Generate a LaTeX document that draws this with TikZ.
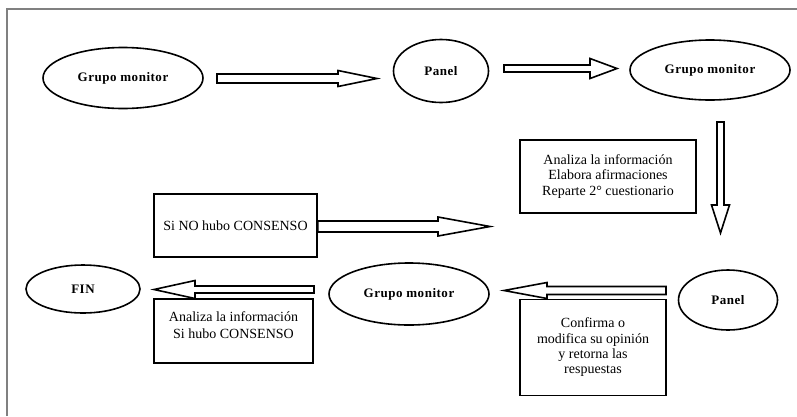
\documentclass[tikz,border=0pt]{standalone}
\usepackage{fontspec}
\setmainfont{Liberation Serif}
\newfontfamily\ellfont[LetterSpace=4]{Liberation Serif}
\usetikzlibrary{shapes.geometric,calc}
\tikzset{
  ell/.style={ellipse, draw, line width=1.6pt, inner sep=0pt,
    font=\ellfont\bfseries\fontsize{13}{15}\selectfont},
  boxn/.style={rectangle, draw, line width=1.6pt, inner sep=0pt, align=center,
    font=\fontsize{14}{15.3}\selectfont},
  boxtext/.style={inner sep=0pt, align=center, font=\fontsize{14}{17}\selectfont},
  arrowline/.style={draw, line width=1.6pt, fill=white, line join=miter},
  framel/.style={draw=black!50, line width=1.3pt},
}
% block arrow: #1 start, #2 tip, #3 shaft half width, #4 head half width, #5 head length
\newcommand{\barrow}[5]{%
  \coordinate (hb) at ($(#2)!#5!(#1)$);
  \draw[arrowline] ($(#1)!#3!90:(#2)$) -- ($(hb)!#3!-90:(#1)$) -- ($(hb)!#4!-90:(#1)$)
    -- (#2) -- ($(hb)!#4!90:(#1)$) -- ($(hb)!#3!90:(#1)$) -- ($(#1)!#3!-90:(#2)$) -- cycle;}
\begin{document}
\begin{tikzpicture}[x=1pt,y=-1pt]
\useasboundingbox[fill=white] (0,0) rectangle (797,416);
\draw[framel] (7,416) -- (7,9) -- (797,9);

% ellipses
\node[ell, minimum width=160pt, minimum height=61pt] (g1) at (123,78) {Grupo monitor};
\node[ell, minimum width=95pt, minimum height=63pt] (p1) at (441,71) {Panel};
\node[ell, minimum width=160pt, minimum height=60pt] (g2) at (710,70) {Grupo monitor};
\node[ell, minimum width=114pt, minimum height=48pt] (fin) at (83,289) {FIN};
\node[ell, minimum width=160pt, minimum height=62pt] (g3) at (409,294) {Grupo monitor};
\node[ell, minimum width=99pt, minimum height=60pt] (p2) at (728,300) {Panel};

% boxes
\node[boxn, minimum width=176pt, minimum height=73pt] (b1) at (608,176.5)
  {Analiza la información\\Elabora afirmaciones\\Reparte 2° cuestionario};
\node[boxn, minimum width=163pt, minimum height=63pt] (b2) at (235.5,225.5)
  {Si NO hubo CONSENSO};
\node[boxn, minimum width=159pt, minimum height=64pt] (b3) at (233.5,331) {};
\node[boxtext] (b3t) at (233.5,325) {Analiza la información\\Si hubo CONSENSO};
\node[boxn, minimum width=146pt, minimum height=96pt] (b4) at (593,347.5)
  {Confirma o\\modifica su opinión\\y retorna las\\respuestas};

% arrow end points
\coordinate (a1s) at (217,78.5);  \coordinate (a1e) at (377,78.5);
\coordinate (a2s) at (504,68.5);  \coordinate (a2e) at (617,68.5);
\coordinate (a3s) at (720.5,122); \coordinate (a3e) at (720.5,233);
\coordinate (a4s) at ($(b2.east)+(0,1)$); \coordinate (a4e) at (490,226.5);
\coordinate (a5s) at (314,289.5); \coordinate (a5e) at (154,289.5);
\coordinate (a6s) at (666,290.5); \coordinate (a6e) at (504,290.5);

\barrow{a1s}{a1e}{4.5pt}{8pt}{39pt}
\barrow{a2s}{a2e}{3.5pt}{10pt}{27pt}
\barrow{a3s}{a3e}{3.5pt}{9pt}{28pt}
\barrow{a4s}{a4e}{5.5pt}{9.5pt}{52pt}
\barrow{a5s}{a5e}{3.5pt}{9pt}{41pt}
\barrow{a6s}{a6e}{4pt}{8pt}{43pt}
\end{tikzpicture}
\end{document}
